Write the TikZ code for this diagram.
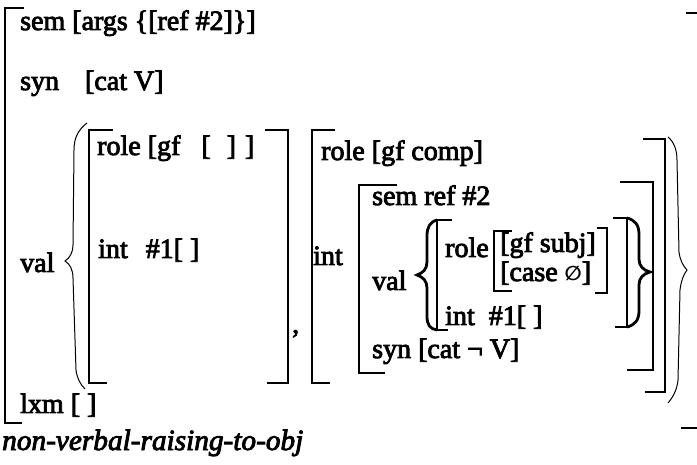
\documentclass[tikz,border=0pt]{standalone}
\usepackage{fontspec}
\setmainfont{Liberation Serif}[BoldFont={Liberation Serif},BoldFeatures={FakeBold=3},BoldItalicFont={Liberation Serif Italic},BoldItalicFeatures={FakeBold=3}]
\newfontfamily\symf{DejaVu Sans}
\begin{document}
\begin{tikzpicture}[x=1pt,y=-1pt,
  txt/.style={anchor=base west, inner sep=0pt, font=\fontsize{28}{30}\selectfont\bfseries},
  itxt/.style={anchor=base west, inner sep=0pt, font=\fontsize{29.3}{31}\selectfont\bfseries\itshape},
  brk/.style={line width=2.8pt, line join=miter},
  thinbrace/.style={line width=1pt},
  heavybrace/.style={line width=2.8pt, line cap=round}]
\useasboundingbox (0,0) rectangle (697,465);

% outer matrix brackets
\draw[brk] (24,8) -- (5,8) -- (5,423) -- (22,423);
\draw[brk] (686,13) -- (697,13);
\draw[brk] (681,428) -- (697,428);

% outer texts
\node[txt] (sem) at (20,30) {sem [args \{[ref \#2]\}]};
\node[txt] (syn) at (20,90) {syn\hspace{26pt}[cat V]};
\node[txt] (val) at (20,272) {val};
\node[txt] (lxm) at (20,413) {lxm [ ]};
\node[itxt] (name) at (2,450) {non-verbal-raising-to-obj};

% thin set braces
\draw[thinbrace] (87,123) .. controls (78,130) and (74,138) .. (74,150) -- (73,245)
  .. controls (73,252) and (70,258) .. (65,261) .. controls (70,264) and (73,270) .. (73,278)
  -- (76,370) .. controls (77,378) and (80,384) .. (85,389);
\draw[thinbrace] (668,137) .. controls (674,142) and (677,150) .. (677,160) -- (679,252)
  .. controls (680,260) and (683,266) .. (687,270) .. controls (683,275) and (681,282) .. (680,290)
  -- (678,380) .. controls (677,390) and (673,397) .. (668,403);

% first element
\draw[brk] (113,130) -- (89,130) -- (89,383) -- (107,383);
\draw[brk] (265,130) -- (288,130) -- (288,383) -- (267,383);
\node[txt] (role1) at (97,155) {role [gf\hspace{21pt}[\hspace{16pt}]\hspace{9pt}]};
\node[txt] (int1) at (98,258) {int\hspace{18pt}\#1[ ]};
\node[txt] (comma) at (292,333) {,};

% second element
\draw[brk] (335,130) -- (312,130) -- (312,383) -- (330,383);
\draw[brk] (643,139) -- (665,139) -- (665,392) -- (645,392);
\node[txt] (role2) at (321,160) {role [gf comp]};
\node[txt] (int2) at (313,265) {int};

% int value box
\draw[brk] (397,185) -- (359,185) -- (359,373) -- (385,373);
\draw[brk] (620,182) -- (653,182) -- (653,370) -- (627,370);
\node[txt] (sem2) at (372,205) {sem ref \#2};
\node[txt] (val2) at (372,290) {val};
\node[txt] (syn2) at (372,358) {syn [cat ¬ V]};

% inner val set
\draw[heavybrace] (437,220) .. controls (430,222) and (427,227) .. (427,236) -- (427,262)
  .. controls (427,269) and (423,273) .. (417,275) .. controls (423,277) and (427,281) .. (427,288)
  -- (427,316) .. controls (427,325) and (430,329) .. (437,330);
\draw[heavybrace] (627,218) .. controls (635,220) and (639,225) .. (639,234) -- (639,259)
  .. controls (639,266) and (643,270) .. (650,272) .. controls (643,274) and (639,278) .. (639,285)
  -- (639,311) .. controls (639,320) and (635,325) .. (627,327);
\draw[brk] (452,220) -- (437,220) -- (437,330) -- (448,330);
\draw[brk] (613,218) -- (627,218) -- (627,327) -- (615,327);
\node[txt] (role3) at (445,257) {role};
\node[txt] (int3) at (445,325) {int\hspace{14pt}\#1[ ]};

% role value box
\draw[brk] (512,231) -- (494,231) -- (494,291) -- (512,291);
\draw[brk] (597,228) -- (607,228) -- (607,293) -- (595,293);
\node[txt] (gf) at (500,252) {[gf subj]};
\node[txt] (case) at (500,281) {[case {\symf\fontsize{20}{20}\selectfont ∅}]};
\end{tikzpicture}
\end{document}
